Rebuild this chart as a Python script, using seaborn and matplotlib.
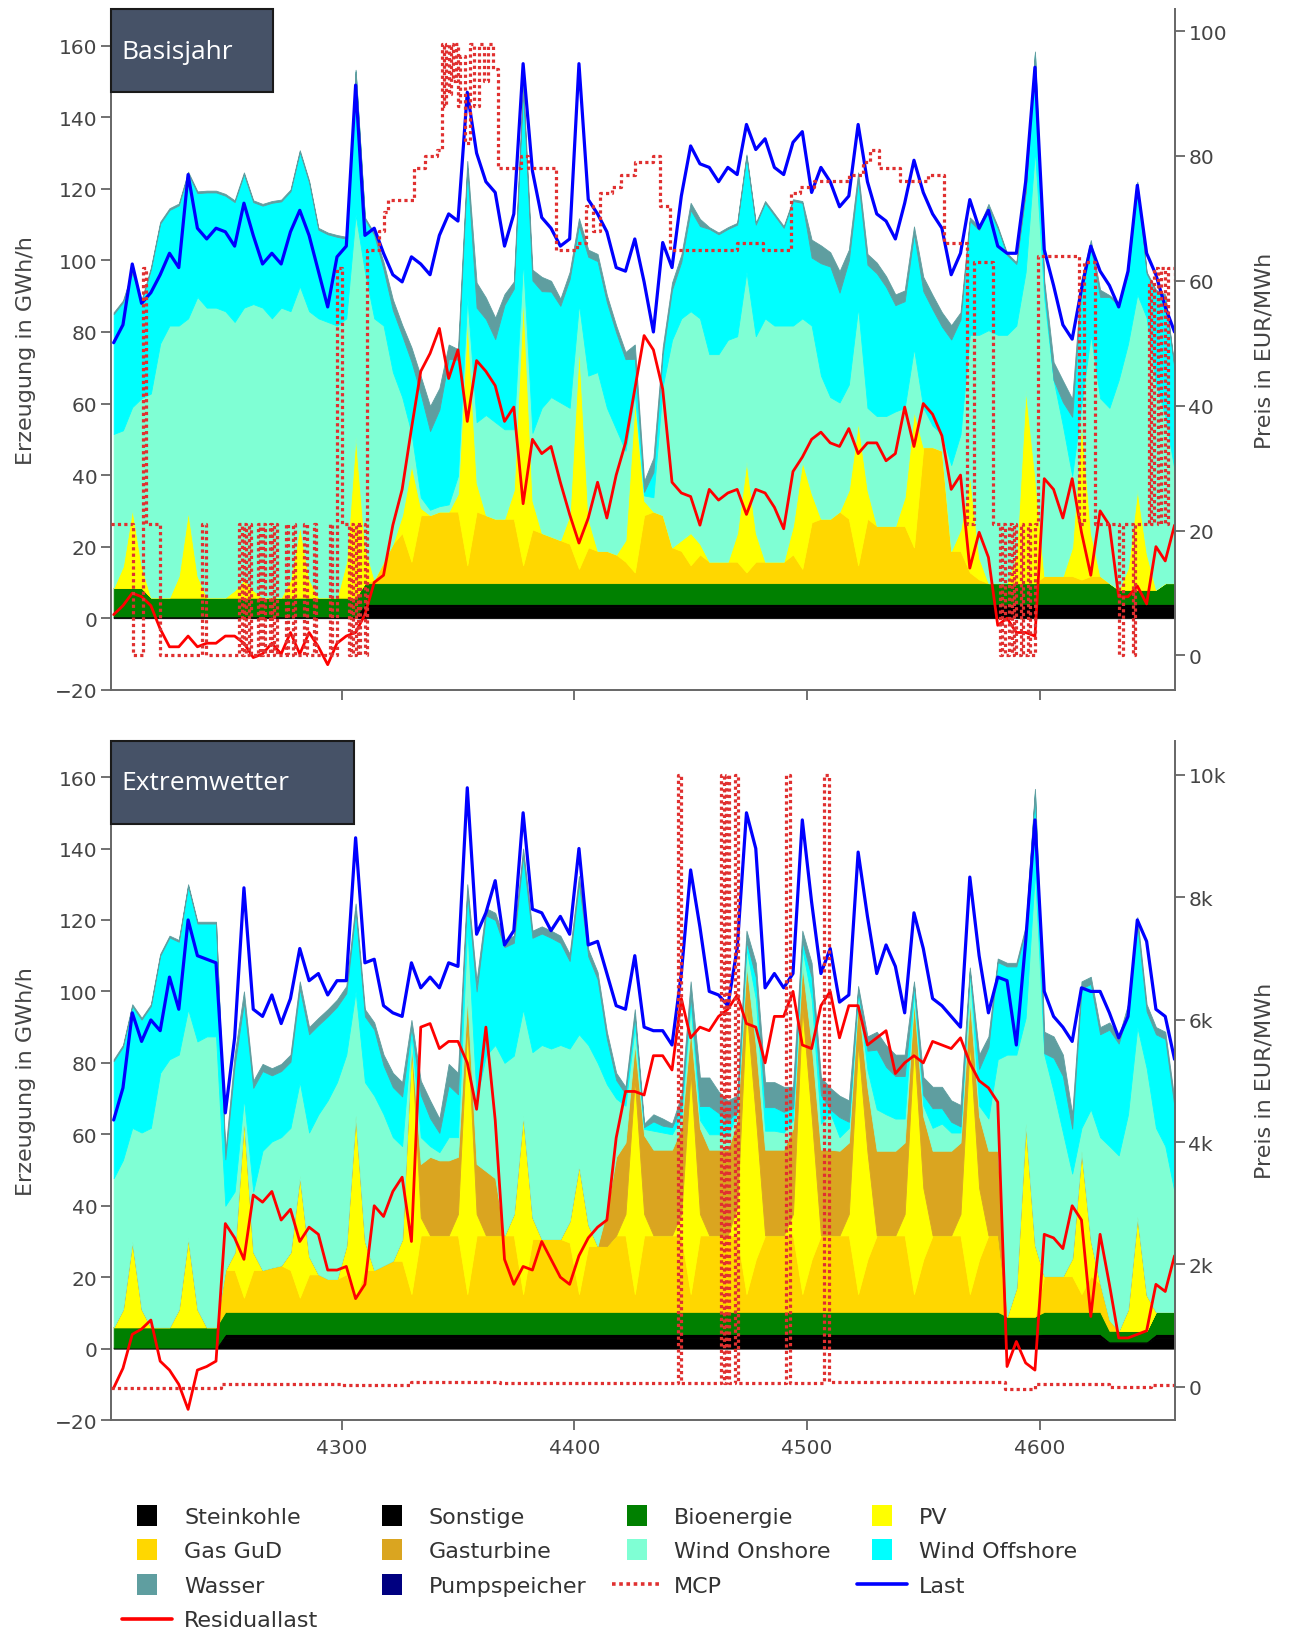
import numpy as np
import matplotlib
matplotlib.use("Agg")
import matplotlib.pyplot as plt
import matplotlib.patches as mpatches
from matplotlib.lines import Line2D
from matplotlib.legend_handler import HandlerPatch
from matplotlib.ticker import FuncFormatter
import seaborn as sns

# Hour of year, sampled every 4 hours
HOURS = np.arange(4202, 4659, 4)

# ---------------------------------------------------------------- Basisjahr
top_steinkohle = [
    0.3, 0.3, 0.3, 0.3, 0.3, 0.3, 0.3, 0.3, 0.3, 0.3,
    0.3, 0.3, 0.3, 0.3, 0.3, 0.3, 0.3, 0.3, 0.3, 0.3,
    0.3, 0.3, 0.3, 0.3, 0.3, 0.3, 0.3, 3.0, 3.0, 3.0,
    3.0, 3.0, 3.0, 3.0, 3.0, 3.0, 3.0, 3.0, 3.0, 3.0,
    3.0, 3.0, 3.0, 3.0, 3.0, 3.0, 3.0, 3.0, 3.0, 3.0,
    3.0, 3.0, 3.0, 3.0, 3.0, 3.0, 3.0, 3.0, 3.0, 3.0,
    3.0, 3.0, 3.0, 3.0, 3.0, 3.0, 3.0, 3.0, 3.0, 3.0,
    3.0, 3.0, 3.0, 3.0, 3.0, 3.0, 3.0, 3.0, 3.0, 3.0,
    3.0, 3.0, 3.0, 3.0, 3.0, 3.0, 3.0, 3.0, 3.0, 3.0,
    3.0, 3.0, 3.0, 3.0, 3.0, 3.0, 3.0, 3.0, 3.0, 3.0,
    3.0, 3.0, 3.0, 3.0, 3.0, 3.0, 3.0, 3.0, 3.0, 3.0,
    3.0, 3.0, 3.0, 3.0, 3.0,
]
top_sonstige = [
    0.2, 0.2, 0.2, 0.2, 0.2, 0.2, 0.2, 0.2, 0.2, 0.2,
    0.2, 0.2, 0.2, 0.2, 0.2, 0.2, 0.2, 0.2, 0.2, 0.2,
    0.2, 0.2, 0.2, 0.2, 0.2, 0.2, 0.2, 1.0, 1.0, 1.0,
    1.0, 1.0, 1.0, 1.0, 1.0, 1.0, 1.0, 1.0, 1.0, 1.0,
    1.0, 1.0, 1.0, 1.0, 1.0, 1.0, 1.0, 1.0, 1.0, 1.0,
    1.0, 1.0, 1.0, 1.0, 1.0, 1.0, 1.0, 1.0, 1.0, 1.0,
    1.0, 1.0, 1.0, 1.0, 1.0, 1.0, 1.0, 1.0, 1.0, 1.0,
    1.0, 1.0, 1.0, 1.0, 1.0, 1.0, 1.0, 1.0, 1.0, 1.0,
    1.0, 1.0, 1.0, 1.0, 1.0, 1.0, 1.0, 1.0, 1.0, 1.0,
    1.0, 1.0, 1.0, 1.0, 1.0, 1.0, 1.0, 1.0, 1.0, 1.0,
    1.0, 1.0, 1.0, 1.0, 1.0, 1.0, 1.0, 1.0, 1.0, 1.0,
    1.0, 1.0, 1.0, 1.0, 1.0,
]
top_bio = [
    8.0, 8.0, 8.0, 8.0, 5.3, 5.3, 5.3, 5.3, 5.3, 5.3,
    5.3, 5.3, 5.3, 5.3, 5.3, 5.3, 5.3, 5.3, 5.3, 5.3,
    5.3, 5.3, 5.3, 5.3, 5.3, 5.3, 5.3, 5.8, 5.8, 5.8,
    5.8, 5.8, 5.8, 5.8, 5.8, 5.8, 5.8, 5.8, 5.8, 5.8,
    5.8, 5.8, 5.8, 5.8, 5.8, 5.8, 5.8, 5.8, 5.8, 5.8,
    5.8, 5.8, 5.8, 5.8, 5.8, 5.8, 5.8, 5.8, 5.8, 5.8,
    5.8, 5.8, 5.8, 5.8, 5.8, 5.8, 5.8, 5.8, 5.8, 5.8,
    5.8, 5.8, 5.8, 5.8, 5.8, 5.8, 5.8, 5.8, 5.8, 5.8,
    5.8, 5.8, 5.8, 5.8, 5.8, 5.8, 5.8, 5.8, 5.8, 5.8,
    5.8, 5.8, 5.8, 5.8, 5.8, 5.8, 5.8, 5.8, 5.8, 5.8,
    5.8, 5.8, 5.8, 5.8, 5.8, 5.8, 5.8, 5.8, 4.0, 4.0,
    4.0, 4.0, 4.0, 5.8, 5.8,
]
top_gud = [
    0, 0, 0, 0, 0, 0, 0, 0, 0, 0,
    0, 0, 0, 0, 0, 0, 0, 0, 0, 0,
    0, 0, 0, 0, 0, 0, 0, 0, 1, 6,
    11, 14, 6, 19, 19, 20, 20, 20, 5, 20,
    19, 18, 18, 18, 5, 15, 14, 13, 12, 11,
    4, 10, 9, 9, 8, 6, 3, 19, 20, 19,
    10, 9, 5, 8, 6, 6, 6, 6, 3, 6,
    6, 6, 6, 8, 4, 17, 18, 18, 20, 18,
    5, 18, 16, 16, 16, 16, 10, 38, 38, 37,
    9, 9, 3, 1, 0, 0, 0, 0, 0, 0,
    2, 2, 2, 2, 1, 2, 2, 0, 0, 0,
    0, 0, 0, 0, 0,
]
top_pv = [
    0, 6, 22, 6, 0, 0, 0, 6, 24, 6,
    0, 0, 0, 2, 5, 2, 0, 0, 0, 5,
    20, 5, 0, 0, 0, 10, 45, 10, 0, 0,
    0, 5, 27, 2, 0, 0, 0, 5, 69, 8,
    0, 0, 0, 8, 75, 8, 0, 0, 0, 8,
    62, 8, 0, 0, 0, 6, 48, 4, 0, 0,
    0, 3, 9, 3, 0, 0, 0, 8, 31, 8,
    0, 0, 0, 8, 30, 8, 0, 0, 0, 8,
    40, 8, 0, 0, 0, 8, 38, 0, 0, 0,
    0, 6, 27, 6, 0, 0, 0, 8, 54, 30,
    0, 0, 0, 8, 44, 12, 0, 0, 0, 6,
    28, 10, 0, 0, 0,
]
top_onshore = [
    43, 38, 28.5, 47, 57, 71, 76, 70, 54, 78,
    81, 81, 80, 75, 76, 80, 81, 78, 81, 75,
    67, 75, 78, 77, 76, 68, 62, 77, 73, 66,
    48, 33, 9, 3, 1.5, 1.5, 2, 5, 6, 17,
    28, 27, 25, 17, 10, 19, 35, 39, 38.5, 30,
    12, 40, 50, 40, 35, 25, 2, 1.5, 4, 36,
    58, 62, 62, 63, 58, 58, 62, 55, 53, 55,
    68, 66, 66, 56, 40, 47, 40, 34, 30.5, 29.5,
    32, 23, 30.7, 30.7, 32, 25, 17.6, 11, 6, 4.6,
    24, 26.6, 39.4, 62.4, 70.7, 69.4, 69.4, 64, 33, 91,
    77.5, 54.8, 42, 20, 5, 55.4, 49.7, 49, 58.6, 62.7,
    54.5, 66, 57.3, 46.7, 31.6,
]
top_offshore = [
    33.5, 35.8, 37.5, 27, 34.7, 33.5, 32.3, 33.6, 40.5, 29,
    32.2, 32.2, 32.3, 33.5, 37.3, 28.5, 28.5, 32.3, 29.7, 33.5,
    37.5, 36, 24.8, 24.5, 24.8, 22.3, 40, 14.7, 23.3, 15.7,
    17.3, 17.2, 19.9, 28.8, 22, 27, 40.7, 32.4, 36, 32,
    26.8, 23.2, 34.8, 39.3, 48, 42.6, 32.6, 29.5, 27, 36,
    22, 33.2, 31, 29.5, 27, 25.6, 9.7, 1, 7, 9,
    14, 15.8, 28.3, 25.8, 35, 33.5, 31, 31.2, 32.3, 31.2,
    32.3, 30.8, 27.3, 34.8, 32.3, 19, 31.4, 36.5, 30.7, 34.7,
    35.8, 40, 39.9, 36.1, 29.7, 29.8, 32.1, 32.6, 32.5, 30.1,
    35.1, 32.1, 31.8, 29.3, 34.3, 29.8, 22.3, 17.2, 22.2, 27.1,
    3, 0, 6.6, 16.5, 33, 24.5, 28.3, 31, 20.9, 19.6,
    31, 12.3, 26, 33.5, 28.1,
]
top_wasser = [
    0.5, 0.5, 0.5, 0.5, 0.5, 0.5, 0.5, 0.5, 0.5, 0.5,
    0.5, 0.5, 0.5, 0.5, 0.5, 0.5, 0.5, 0.5, 0.5, 0.5,
    0.5, 0.5, 0.5, 0.5, 0.5, 0.5, 0.5, 0.5, 0.5, 2,
    3, 3, 4, 5, 7, 6, 4, 3, 2, 7,
    6, 6, 3, 2, 2, 3, 4, 3, 2, 2,
    2, 2, 2, 2, 2, 2, 4, 3, 4, 2,
    2, 2, 2, 2, 0.5, 0.5, 0.5, 0.5, 0.5, 0.5,
    0.5, 0.5, 0.5, 0.5, 0.5, 5, 5, 4, 6, 3,
    2, 3, 3, 3, 3, 3, 2, 4, 4, 4,
    4, 2, 1, 1, 1, 0.5, 0.5, 0.5, 0.5, 0.5,
    2, 5, 6, 5, 2, 2, 2, 0.5, 0.5, 0.5,
    0.5, 0.5, 0.5, 0.5, 0.5,
]
top_last = [
    77, 82, 99, 88, 91, 96, 102, 98, 124, 109,
    106, 109, 108, 104, 116, 107, 99, 102, 99, 108,
    114, 107, 97, 87, 101, 104, 149, 107, 109, 102,
    96, 94, 101, 99, 96, 107, 113, 111, 147, 130,
    122, 119, 104, 113, 155, 125, 112, 109, 104, 106,
    155, 117, 113, 108, 98, 97, 106, 94, 80, 105,
    98, 118, 132, 127, 126, 122, 126, 124, 138, 131,
    134, 126, 124, 133, 136, 119, 126, 122, 115, 118,
    138, 122, 113, 111, 106, 116, 128, 119, 113, 109,
    96, 102, 117, 109, 114, 104, 102, 102, 122, 154,
    103, 93, 82, 78, 92, 104, 97, 93, 87, 97,
    121, 102, 96, 87, 80,
]
top_residual = [
    1, 3.5, 7, 6, 3.5, -3, -8, -8, -5, -8,
    -7, -7, -5, -5, -7, -11, -10, -7, -10, -4,
    -10, -4, -8, -13, -7, -5, -4, 1, 10, 12,
    26, 36, 53, 69, 74, 81, 67, 75, 55, 72,
    69, 65, 55, 59, 32, 50, 46, 48, 38, 29,
    21, 28, 38, 28, 40, 49, 64, 79, 75, 64,
    38, 35, 34, 26, 36, 33, 35, 36, 29, 36,
    35, 31, 25, 41, 45, 50, 52, 49, 48, 53,
    46, 49, 49, 44, 46, 59, 48, 60, 57, 51,
    36, 40, 14, 24, 17, -2, 0, -4, -4, -5,
    39, 36, 28, 39, 24, 12, 30, 26, 6, 6,
    9, 4, 20, 16, 26,
]
# Market clearing price (hourly steps)
top_mcp_hours = [
    4201, 4210.5, 4214.5, 4216, 4222, 4240, 4241.5, 4256, 4257, 4258,
    4259, 4260, 4261, 4264, 4265, 4266, 4267, 4269, 4270, 4271,
    4272, 4276, 4277, 4279, 4280, 4284, 4285, 4288, 4289, 4295,
    4296, 4298, 4300, 4303, 4304, 4305, 4306, 4307, 4308, 4310,
    4311, 4316, 4318, 4320, 4331, 4336, 4341, 4343, 4344, 4345,
    4346, 4347, 4348, 4349, 4350, 4351, 4353, 4355, 4357, 4359,
    4361, 4363, 4365, 4367, 4377, 4380, 4392, 4401, 4405, 4408,
    4411, 4416, 4420, 4426, 4434, 4437, 4441, 4470, 4481, 4493,
    4497, 4503, 4518, 4524, 4527, 4531, 4540, 4552, 4559, 4569,
    4572, 4580, 4583, 4584, 4585, 4587, 4588, 4589, 4590, 4592,
    4593, 4595, 4596, 4598, 4599.5, 4617, 4619, 4624, 4634, 4636,
    4640, 4641, 4647, 4648, 4649, 4651, 4652, 4654, 4655, 4658,
]
top_mcp = [
    21, 0, 62, 21, 0, 21, 0, 21, 0, 21,
    0, 21, 0, 21, 0, 21, 0, 21, 0, 21,
    0, 21, 0, 21, 0, 21, 0, 21, 0, 21,
    0, 62, 21, 0, 21, 0, 21, 0, 21, 0,
    65, 68, 71, 73, 78, 80, 81, 98, 88, 98,
    90, 98, 92, 98, 88, 96, 82, 98, 88, 98,
    92, 98, 94, 78, 80, 78, 65, 66, 72, 68,
    74, 75, 77, 79, 80, 72, 65, 66, 65, 74,
    75, 76, 77, 79, 81, 78, 76, 77, 66, 21,
    63, 21, 0, 21, 0, 21, 0, 21, 0, 21,
    0, 21, 0, 21, 64, 21, 63, 21, 0, 21,
    0, 21, 60, 21, 62, 21, 62, 21, 62, 60,
]

# ------------------------------------------------------------- Extremwetter
bot_steinkohle = [
    0.2, 0.2, 0.2, 0.2, 0.2, 0.2, 0.2, 0.2, 0.2, 0.2,
    0.2, 0.2, 3.1, 3.1, 3.1, 3.1, 3.1, 3.1, 3.1, 3.1,
    3.1, 3.1, 3.1, 3.1, 3.1, 3.1, 3.1, 3.1, 3.1, 3.1,
    3.1, 3.1, 3.1, 3.1, 3.1, 3.1, 3.1, 3.1, 3.1, 3.1,
    3.1, 3.1, 3.1, 3.1, 3.1, 3.1, 3.1, 3.1, 3.1, 3.1,
    3.1, 3.1, 3.1, 3.1, 3.1, 3.1, 3.1, 3.1, 3.1, 3.1,
    3.1, 3.1, 3.1, 3.1, 3.1, 3.1, 3.1, 3.1, 3.1, 3.1,
    3.1, 3.1, 3.1, 3.1, 3.1, 3.1, 3.1, 3.1, 3.1, 3.1,
    3.1, 3.1, 3.1, 3.1, 3.1, 3.1, 3.1, 3.1, 3.1, 3.1,
    3.1, 3.1, 3.1, 3.1, 3.1, 3.1, 3.0, 3.0, 3.0, 3.0,
    3.1, 3.1, 3.1, 3.1, 3.1, 3.1, 3.1, 1.5, 1.5, 1.5,
    1.5, 1.5, 3.1, 3.1, 3.1,
]
bot_sonstige = [
    0.1, 0.1, 0.1, 0.1, 0.1, 0.1, 0.1, 0.1, 0.1, 0.1,
    0.1, 0.1, 1.0, 1.0, 1.0, 1.0, 1.0, 1.0, 1.0, 1.0,
    1.0, 1.0, 1.0, 1.0, 1.0, 1.0, 1.0, 1.0, 1.0, 1.0,
    1.0, 1.0, 1.0, 1.0, 1.0, 1.0, 1.0, 1.0, 1.0, 1.0,
    1.0, 1.0, 1.0, 1.0, 1.0, 1.0, 1.0, 1.0, 1.0, 1.0,
    1.0, 1.0, 1.0, 1.0, 1.0, 1.0, 1.0, 1.0, 1.0, 1.0,
    1.0, 1.0, 1.0, 1.0, 1.0, 1.0, 1.0, 1.0, 1.0, 1.0,
    1.0, 1.0, 1.0, 1.0, 1.0, 1.0, 1.0, 1.0, 1.0, 1.0,
    1.0, 1.0, 1.0, 1.0, 1.0, 1.0, 1.0, 1.0, 1.0, 1.0,
    1.0, 1.0, 1.0, 1.0, 1.0, 1.0, 1.0, 1.0, 1.0, 1.0,
    1.0, 1.0, 1.0, 1.0, 1.0, 1.0, 1.0, 0.5, 0.5, 0.5,
    0.5, 0.5, 1.0, 1.0, 1.0,
]
bot_bio = [
    5.7, 5.7, 5.7, 5.7, 5.7, 5.7, 5.7, 5.7, 5.7, 5.7,
    5.7, 5.7, 6.2, 6.2, 6.2, 6.2, 6.2, 6.2, 6.2, 6.2,
    6.2, 6.2, 6.2, 6.2, 6.2, 6.2, 6.2, 6.2, 6.2, 6.2,
    6.2, 6.2, 6.2, 6.2, 6.2, 6.2, 6.2, 6.2, 6.2, 6.2,
    6.2, 6.2, 6.2, 6.2, 6.2, 6.2, 6.2, 6.2, 6.2, 6.2,
    6.2, 6.2, 6.2, 6.2, 6.2, 6.2, 6.2, 6.2, 6.2, 6.2,
    6.2, 6.2, 6.2, 6.2, 6.2, 6.2, 6.2, 6.2, 6.2, 6.2,
    6.2, 6.2, 6.2, 6.2, 6.2, 6.2, 6.2, 6.2, 6.2, 6.2,
    6.2, 6.2, 6.2, 6.2, 6.2, 6.2, 6.2, 6.2, 6.2, 6.2,
    6.2, 6.2, 6.2, 6.2, 6.2, 6.2, 5.0, 5.0, 5.0, 5.0,
    6.2, 6.2, 6.2, 6.2, 6.2, 6.2, 6.2, 3.0, 3.0, 3.0,
    3.0, 3.0, 6.2, 6.2, 6.2,
]
bot_gud = [
    0, 0, 0, 0, 0, 0, 0, 0, 0, 0,
    0, 0, 11.7, 11.7, 4, 11.7, 11.7, 12.4, 13, 11.7,
    4, 10.5, 10.5, 9.2, 9.2, 10.5, 4, 11.7, 11.7, 13,
    14.3, 14.3, 5, 21.4, 21.4, 21.4, 21.4, 21.4, 5, 21.4,
    21.4, 21.4, 21.4, 21.4, 5, 20.4, 20.4, 20.4, 20.4, 19.4,
    5, 18.4, 18.4, 18.4, 21.4, 21.4, 5, 21.4, 21.4, 21.4,
    21.4, 21.4, 5, 21.4, 21.4, 21.4, 21.4, 21.4, 5, 14.7,
    21.4, 21.4, 21.4, 21.4, 5, 14.7, 21.4, 21.4, 21.4, 21.4,
    5, 14.7, 21.4, 21.4, 21.4, 21.4, 5, 14.7, 21.4, 21.4,
    21.4, 21.4, 5, 14.7, 21.4, 21.4, 0, 0, 0, 0,
    10, 10, 10, 10, 5, 10, 8, 3, 0, 0,
    0, 0, 0, 0, 0,
]
bot_pv = [
    0, 5, 24, 5, 0, 0, 0, 5, 25, 5,
    0, 0, 0, 5, 50, 5, 0, 0, 0, 5,
    34, 5, 0, 0, 0, 8, 51, 8, 0, 0,
    0, 6, 70, 5, 0, 0, 0, 6, 75, 6,
    0, 0, 0, 6, 50, 6, 0, 0, 0, 6,
    36, 6, 0, 0, 0, 6, 60, 6, 0, 0,
    0, 6, 62, 6, 0, 0, 0, 8, 80, 40,
    0, 0, 0, 6, 80, 40, 0, 0, 0, 6,
    70, 30, 0, 0, 0, 6, 70, 20, 0, 0,
    0, 6, 70, 20, 0, 0, 0, 8, 54, 20,
    0, 0, 0, 5, 40, 10, 0, 0, 0, 6,
    32, 10, 0, 0, 0,
]
bot_gasturbine = [
    0, 0, 0, 0, 0, 0, 0, 0, 0, 0,
    0, 0, 0, 0, 0, 0, 0, 0, 0, 0,
    0, 0, 0, 0, 0, 0, 0, 0, 0, 0,
    0, 0, 0, 15, 22, 21, 21, 16, 8, 14,
    18, 16, 0, 0, 0, 0, 0, 0, 0, 0,
    0, 0, 0, 10, 22, 20, 10, 22, 24, 24,
    24, 24, 12, 24, 24, 24, 24, 24, 12, 20,
    24, 24, 24, 24, 12, 20, 24, 24, 23.7, 20,
    12, 18, 23.7, 23.7, 23.7, 20, 12, 20, 23.7, 23.7,
    23.7, 20, 12, 20, 23.7, 23.7, 0, 0, 0, 0,
    0, 0, 0, 0, 0, 0, 0, 0, 0, 0,
    0, 0, 0, 0, 0,
]
bot_onshore = [
    41.7, 41.8, 31.8, 49.5, 55.8, 71.2, 75, 71.3, 64, 75,
    81.4, 81.4, 18, 17, 5.7, 17, 33.4, 35.3, 35.9, 34.8,
    26.3, 34.7, 44.8, 50, 55.1, 53.5, 34.7, 44.6, 48.8, 42.3,
    34.6, 26.1, 2.7, 7.5, 3, 2.3, 6.5, 5.5, 19.7, 18.3,
    32.3, 37.3, 48.3, 44.3, 29.7, 46.3, 54.3, 53.3, 54.3, 48.3,
    36.7, 50.3, 51.3, 35.3, 16.3, 10.3, 4.7, 1.8, 5.3, 4.8,
    4.3, 3.3, 6.7, 2.3, 4.3, 4.3, 3.8, 2.3, 4.7, 13,
    5.3, 5.3, 4.8, 2.3, 4.7, 13, 7.3, 10.3, 3.8, 4.1,
    2.7, 5, 11.6, 10.2, 9, 6.7, 2.7, 3, 6.4, 7.6,
    5.1, 2.8, 8.1, 3, 9, 25.6, 73.3, 65.3, 29.6, 104.6,
    62, 51.7, 40.2, 23.7, 6.5, 36.7, 40.9, 48.7, 49.1, 54.6,
    53, 63.5, 51.5, 46.4, 33.5,
]
bot_offshore = [
    32.8, 31.7, 34.1, 31.6, 34.1, 32.8, 34.1, 31.6, 34.5, 33,
    31.6, 31.6, 13, 35.3, 27, 29, 22.3, 18.5, 18.5, 18.5,
    26.2, 27.5, 25, 23.5, 21.1, 17.2, 22.6, 18.4, 18.5, 13.7,
    14, 13.9, 2, 11.8, 7.8, 5.4, 14.5, 12, 10, 30,
    39.3, 35, 32.4, 31.6, 43, 32, 31.2, 31, 28.6, 24.5,
    42.3, 24.8, 23.4, 12.7, 5.2, 3.3, 3, 0.5, 2.6, 1.9,
    2, 2.8, 2.8, 3.9, 7.9, 6, 4, 0.8, 2, 6,
    6.6, 6.6, 5.8, 3.3, 2, 6, 8, 1, 5.6, 1.7,
    0.5, 5.4, 16.7, 13.3, 11.9, 11.9, 1.8, 3, 5.5, 4.3,
    3, 1.7, 0.3, 10.3, 20, 27.2, 24.7, 24.7, 24.6, 22.1,
    0.4, 9.4, 15.8, 12.6, 39, 35.1, 28.8, 32.6, 31.3, 28.8,
    28.8, 15.9, 26.2, 30, 23.7,
]
bot_wasser = [
    0.5, 0.5, 0.5, 0.5, 0.5, 0.5, 0.5, 0.5, 0.5, 0.5,
    0.5, 0.5, 2, 3, 3, 2, 2, 2, 2, 2,
    2, 2, 2, 2, 2, 2, 2, 2, 2, 3,
    4, 4, 2, 4, 5, 4, 6, 6, 2, 3,
    2, 2, 2, 2, 2, 2, 2, 2, 2, 2,
    2, 2, 2, 2, 2, 2, 2, 1, 2, 2,
    1, 3, 4, 8, 8, 6, 6, 4, 3, 4,
    7, 7, 7, 6, 3, 4, 5, 6, 6, 6,
    1, 4, 5, 6, 6, 6, 1, 5, 6, 6,
    6, 6, 1, 4, 3, 1, 1, 1, 1, 1,
    6, 6, 6, 4, 2, 2, 2, 2, 2, 2,
    2, 2, 2, 2, 2,
]
bot_last = [
    64, 73, 94, 86, 92, 89, 104, 95, 120, 110,
    109, 108, 66, 87, 129, 95, 93, 99, 91, 98,
    112, 103, 105, 99, 103, 103, 143, 108, 109, 96,
    94, 93, 108, 101, 104, 101, 108, 107, 157, 116,
    122, 131, 113, 117, 150, 123, 122, 117, 121, 116,
    140, 113, 114, 105, 96, 95, 110, 90, 89, 89,
    85, 105, 134, 118, 100, 99, 96, 112, 150, 140,
    101, 105, 101, 105, 148, 125, 105, 112, 97, 99,
    139, 121, 105, 113, 107, 94, 122, 112, 98, 96,
    93, 90, 132, 110, 94, 104, 103, 85, 114, 148,
    100, 93, 90, 86, 101, 100, 100, 94, 87, 93,
    120, 114, 95, 93, 81,
]
bot_residual = [
    -11, -5.5, 4, 5.5, 8, -3.5, -6, -10, -17, -6,
    -5, -3.5, 35, 31, 25, 43, 41, 44, 36, 39,
    30, 34, 32, 22, 22, 23, 14, 18, 40, 37,
    44, 48, 30, 90, 91, 84, 86, 86, 80, 67,
    90, 64, 25, 18, 23, 22, 30, 25, 20, 18,
    26, 31, 34, 36, 59, 72, 72, 71, 82, 82,
    78, 98, 87, 90, 89, 93, 95, 99, 91, 90,
    80, 93, 93, 100, 85, 84, 96, 100, 87, 96,
    96, 85, 87, 89, 77, 80, 82, 80, 86, 85,
    84, 87, 80, 75, 73, 69, -5, 2, -4, -6,
    32, 31, 28, 40, 36, 9, 32, 18, 3, 3,
    4, 5, 18, 16, 26,
]
bot_mcp_hours = [
    4201, 4248, 4300, 4330, 4368, 4440, 4444.5, 4446, 4463, 4464.3,
    4465.3, 4466.7, 4469, 4470.5, 4491, 4492.5, 4507.5, 4509.5, 4585, 4598,
    4630, 4648, 4658,
]
bot_mcp = [
    -20, 40, 30, 75, 55, 70, 10000, 70, 10000, 70,
    10000, 70, 10000, 70, 10000, 70, 10000, 80, -40, 40,
    0, 30, 30,
]

COLORS = {
    "Steinkohle": "#000000",
    "Sonstige": "#000000",
    "Bioenergie": "#008000",
    "Gas GuD": "#ffd700",
    "PV": "#ffff00",
    "Gasturbine": "#daa520",
    "Wind Onshore": "#7fffd4",
    "Wind Offshore": "#00ffff",
    "Wasser": "#5f9ea0",
    "Pumpspeicher": "#000080",
}
LAST_COLOR = "#0000ff"
RESID_COLOR = "#ff0000"
MCP_COLOR = "#e03030"
MCP_DASH = (0, (1, 1))
TEXT_COLOR = "#444444"
AXIS_COLOR = "#666666"

sns.set_theme(style="white")
plt.rcParams["font.family"] = ["DejaVu Sans"]
plt.rcParams["axes.unicode_minus"] = True

fig = plt.figure(figsize=(12.9, 16.31), dpi=100)
ax_top = fig.add_axes([0.0863, 0.5765, 0.8242, 0.4172])
ax_bot = fig.add_axes([0.0863, 0.1287, 0.8242, 0.4166])


def draw_panel(ax, stack, last, resid, mcp_h, mcp_v, rlim, rticks, rfmt,
               title, box_w, show_xlabels):
    names = [n for n, _ in stack]
    polys = ax.stackplot(HOURS, *[v for _, v in stack],
                         colors=[COLORS[n] for n in names], linewidth=0.6, zorder=1)
    for p in polys:
        p.set_edgecolor(p.get_facecolor())

    sns.lineplot(x=HOURS, y=last, ax=ax, color=LAST_COLOR, linewidth=2.3,
                 estimator=None, sort=False, legend=False, zorder=4)
    sns.lineplot(x=HOURS, y=resid, ax=ax, color=RESID_COLOR, linewidth=2.0,
                 estimator=None, sort=False, legend=False, zorder=5)

    ax.set_xlim(4201, 4658)
    ax.set_ylim(-20, 170.2)
    ax.set_yticks(range(-20, 161, 20))
    ax.set_xticks([4300, 4400, 4500, 4600])
    ax.set_xlabel("")
    ax.set_ylabel("Erzeugung in GWh/h", fontsize=16, color=TEXT_COLOR)
    ax.yaxis.set_label_coords(-0.0708, 0.5)
    ax.tick_params(axis="y", left=True, direction="out", length=7, width=1.3,
                   color=AXIS_COLOR, labelsize=14.5, labelcolor=TEXT_COLOR, pad=3)
    ax.tick_params(axis="x", bottom=True, direction="out", length=7, width=1.3,
                   color=AXIS_COLOR, labelsize=14.5, labelcolor=TEXT_COLOR,
                   labelbottom=show_xlabels, pad=6)
    for side in ("top", "right"):
        ax.spines[side].set_visible(False)
    for side in ("left", "bottom"):
        ax.spines[side].set_color(AXIS_COLOR)
        ax.spines[side].set_linewidth(1.4)
    ax.grid(False)

    ax2 = ax.twinx()
    sns.lineplot(x=mcp_h, y=mcp_v, ax=ax2, color=MCP_COLOR, linewidth=2.3,
                 linestyle=MCP_DASH, drawstyle="steps-post",
                 estimator=None, sort=False, legend=False)
    ax2.set_xlim(4201, 4658)
    ax2.set_ylim(*rlim)
    ax2.set_yticks(rticks)
    ax2.yaxis.set_major_formatter(FuncFormatter(rfmt))
    ax2.set_ylabel("Preis in EUR/MWh", fontsize=16, color=TEXT_COLOR, rotation=90)
    ax2.yaxis.set_label_coords(1.075, 0.5)
    ax2.tick_params(axis="y", right=True, direction="out", length=7, width=1.3,
                    color=AXIS_COLOR, labelsize=14.5, labelcolor=TEXT_COLOR, pad=3)
    for side in ("top", "left", "bottom"):
        ax2.spines[side].set_visible(False)
    ax2.spines["right"].set_color(AXIS_COLOR)
    ax2.spines["right"].set_linewidth(1.4)
    ax2.grid(False)

    box = mpatches.Rectangle((0, 0.878), box_w, 0.122, transform=ax2.transAxes,
                             facecolor="#465267", edgecolor="#1a1a1a",
                             linewidth=1.5, zorder=10, clip_on=False)
    ax2.add_patch(box)
    ax2.text(0.0095, 0.938, title, transform=ax2.transAxes, color="white",
             fontsize=19, family=["Open Sans", "DejaVu Sans"], ha="left",
             va="center", zorder=11)
    return ax2


draw_panel(
    ax_top,
    [("Steinkohle", top_steinkohle), ("Sonstige", top_sonstige),
     ("Bioenergie", top_bio), ("Gas GuD", top_gud), ("PV", top_pv),
     ("Wind Onshore", top_onshore), ("Wind Offshore", top_offshore),
     ("Wasser", top_wasser)],
    top_last, top_residual, top_mcp_hours, top_mcp,
    (-5.5, 103.5), [0, 20, 40, 60, 80, 100], lambda v, _: f"{v:.0f}",
    "Basisjahr", 0.152, False,
)
draw_panel(
    ax_bot,
    [("Steinkohle", bot_steinkohle), ("Sonstige", bot_sonstige),
     ("Bioenergie", bot_bio), ("Gas GuD", bot_gud), ("PV", bot_pv),
     ("Gasturbine", bot_gasturbine), ("Wind Onshore", bot_onshore),
     ("Wind Offshore", bot_offshore), ("Wasser", bot_wasser)],
    bot_last, bot_residual, bot_mcp_hours, bot_mcp,
    (-544, 10562), [0, 2000, 4000, 6000, 8000, 10000],
    lambda v, _: "0" if v == 0 else f"{v / 1000:.0f}k",
    "Extremwetter", 0.228, True,
)


# ------------------------------------------------------------------ legend
def square_patch(legend, orig_handle, xdescent, ydescent, width, height, fontsize):
    s = 15.0
    return mpatches.Rectangle((-xdescent + (width - s) / 2,
                               -ydescent + (height - s) / 2), s, s)


def patch(name):
    return mpatches.Patch(facecolor=COLORS[name], edgecolor="none")


columns = [
    [("Steinkohle", patch("Steinkohle")), ("Gas GuD", patch("Gas GuD")),
     ("Wasser", patch("Wasser")),
     ("Residuallast", Line2D([], [], color=RESID_COLOR, linewidth=2.6))],
    [("Sonstige", patch("Sonstige")), ("Gasturbine", patch("Gasturbine")),
     ("Pumpspeicher", patch("Pumpspeicher"))],
    [("Bioenergie", patch("Bioenergie")), ("Wind Onshore", patch("Wind Onshore")),
     ("MCP", Line2D([], [], color=MCP_COLOR, linewidth=2.6, linestyle=MCP_DASH))],
    [("PV", patch("PV")), ("Wind Offshore", patch("Wind Offshore")),
     ("Last", Line2D([], [], color=LAST_COLOR, linewidth=2.6))],
]
col_x = [122, 367, 612, 857]
for x0, col in zip(col_x, columns):
    fig.legend(
        handles=[h for _, h in col], labels=[n for n, _ in col],
        loc="upper left", bbox_to_anchor=(x0 / 1290, 1 - 1508 / 1631),
        frameon=False, fontsize=16, labelcolor="#333333",
        handlelength=2.25, handletextpad=0.54, labelspacing=0.65,
        borderpad=0, borderaxespad=0,
        handler_map={mpatches.Patch: HandlerPatch(patch_func=square_patch)},
    )

fig.savefig("out.png", dpi=100, facecolor="white")
